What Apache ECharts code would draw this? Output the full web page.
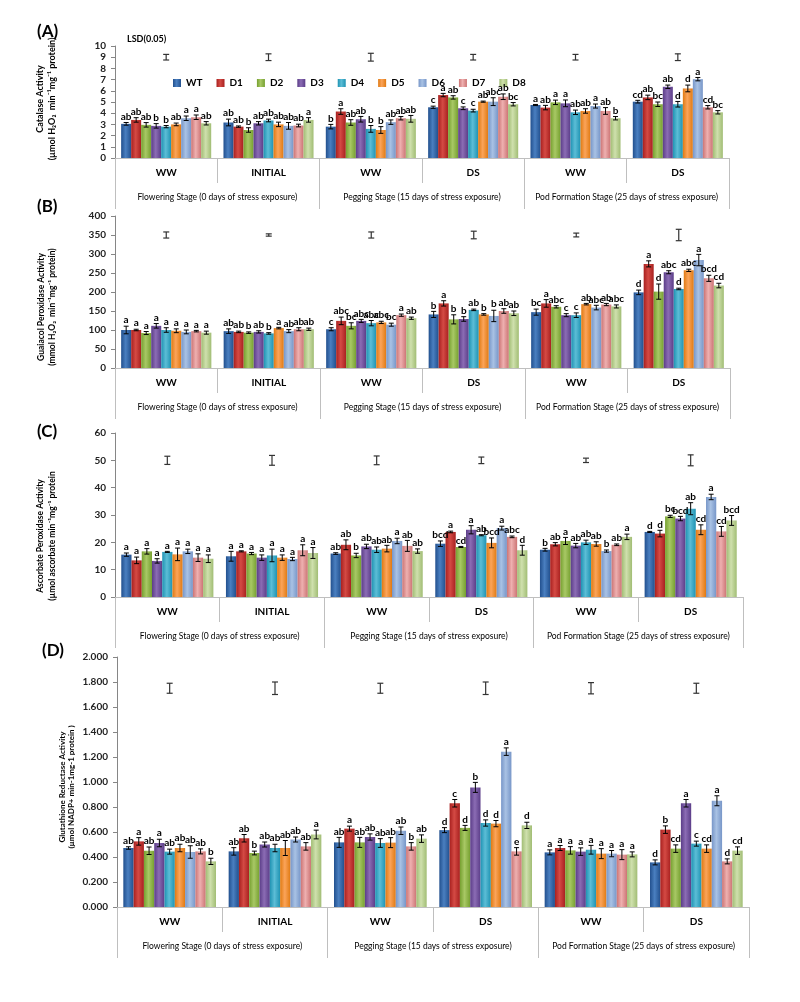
<!DOCTYPE html>
<html><head><meta charset="utf-8">
<script src="https://cdn.jsdelivr.net/npm/echarts@6.0.0/dist/echarts.min.js"></script>
<style>html,body{margin:0;padding:0;background:#fff}#c{width:800px;height:1002px}</style>
</head><body><div id="c"></div>
<script>
const seriesNames = ['WT','D1','D2','D3','D4','D5','D6','D7','D8'];
const categories = ['WW','INITIAL','WW','DS','WW','DS'];
const stages = ['Flowering Stage (0 days of stress exposure)','Pegging Stage (15 days of stress exposure)','Pod Formation Stage (25 days of stress exposure)'];

// (A) Catalase — rows: WT..D8, columns: 6 groups
const catMean = [
  [3.05,3.17,2.8,4.53,4.73,5.03],
  [3.4,2.8,4.15,5.62,4.5,5.41],
  [2.96,2.5,3.17,5.41,4.97,4.8],
  [2.87,3.1,3.46,4.44,4.88,6.36],
  [2.8,3.35,2.6,4.23,4.08,4.8],
  [3.0,3.0,2.5,5.03,4.2,6.21],
  [3.55,2.87,3.2,5.03,4.64,7.04],
  [3.64,2.9,3.55,5.47,4.2,4.53],
  [3.1,3.4,3.5,4.8,3.55,4.08]];
const catErr = [
  [0.12,0.3,0.2,0.1,0.05,0.12],
  [0.2,0.06,0.25,0.15,0.2,0.2],
  [0.2,0.2,0.25,0.15,0.2,0.2],
  [0.2,0.15,0.25,0.12,0.3,0.15],
  [0.1,0.12,0.3,0.12,0.2,0.25],
  [0.12,0.2,0.3,0.05,0.2,0.3],
  [0.2,0.3,0.2,0.35,0.18,0.15],
  [0.2,0.12,0.15,0.25,0.3,0.15],
  [0.15,0.2,0.3,0.15,0.15,0.15]];
const catLet = [
  ['ab','ab','b','c','a','cd'],
  ['ab','ab','a','a','ab','ab'],
  ['ab','b','ab','ab','a','bc'],
  ['b','ab','ab','c','a','ab'],
  ['b','ab','b','c','ab','d'],
  ['ab','ab','b','ab','ab','d'],
  ['a','ab','ab','abc','a','a'],
  ['a','ab','ab','ab','ab','cd'],
  ['ab','a','ab','bc','b','bc']];
const catLsd = [0.25,0.3,0.35,0.25,0.25,0.3];
const catLsdLevel = 9;

// (B) Guaiacol peroxidase
const gpxMean = [
  [100,97,102,141,147,199],
  [100,95,124,170,170,274],
  [92,93,111,128,161,201],
  [111,95,124,129,139,252],
  [100,91,118,153,139,208],
  [98,105,120,141,168,257],
  [95,97,114,137,159,284],
  [97,102,139,150,167,236],
  [93,102,131,144,162,217]];
const gpxErr = [
  [10,6,4,8,8,6],
  [2,2,10,7,10,8],
  [4,2,8,12,3,20],
  [6,3,4,6,4,4],
  [6,2,7,2,6,2],
  [5,2,3,2,2,3],
  [5,4,4,15,6,15],
  [2,4,3,6,3,8],
  [4,3,3,6,4,6]];
const gpxLet = [
  ['a','ab','c','b','bc','d'],
  ['a','ab','abc','a','a','a'],
  ['a','b','bc','b','abc','d'],
  ['a','ab','abc','b','c','abc'],
  ['a','b','abc','ab','c','d'],
  ['a','a','abc','b','ab','abc'],
  ['a','ab','bc','b','abc','a'],
  ['a','ab','a','ab','ab','bcd'],
  ['a','ab','ab','ab','abc','cd']];
const gpxLsd = [8,3,8,10,5,15];
const gpxLsdLevel = 350;

// (C) Ascorbate peroxidase
const apxMean = [
  [15.5,14.9,15.9,19.5,17.3,23.8],
  [13.4,16.7,19.1,23.8,19.3,23.2],
  [16.7,15.9,15.2,18.3,20.5,29.5],
  [13.2,14.4,18.5,24.6,18.8,28.7],
  [16.5,15.2,17.3,22.6,20.0,32.3],
  [15.6,14.4,17.7,19.8,19.4,24.6],
  [16.7,13.9,20.5,25.2,16.8,36.6],
  [14.4,17.1,18.7,22.0,19.1,24.0],
  [14.0,16.1,16.8,17.1,22.0,28.0]];
const apxErr = [
  [0.6,1.8,0.3,1.0,0.5,0.2],
  [1.2,0.2,1.8,0.3,0.6,1.2],
  [1.0,0.4,0.8,0.2,1.3,0.4],
  [0.8,1.0,0.8,1.5,0.8,0.8],
  [0.2,2.3,1.0,0.2,0.8,2.2],
  [2.3,1.0,1.2,1.8,0.8,1.8],
  [0.8,0.6,1.0,0.7,0.4,1.0],
  [1.4,2.0,2.0,0.3,0.3,1.8],
  [1.4,2.0,0.8,1.8,1.0,1.8]];
const apxLet = [
  ['a','a','ab','bcd','b','d'],
  ['a','a','ab','a','ab','d'],
  ['a','a','b','cd','a','bc'],
  ['a','a','ab','a','ab','bcd'],
  ['a','a','ab','ab','ab','ab'],
  ['a','a','ab','bcd','ab','cd'],
  ['a','a','a','a','b','a'],
  ['a','a','ab','abc','ab','cd'],
  ['a','a','ab','d','a','bcd']];
const apxLsd = [1.5,1.8,1.6,1.2,0.8,2.0];
const apxLsdLevel = 50;

// (D) Glutathione reductase
const grMean = [
  [0.472,0.445,0.517,0.615,0.437,0.357],
  [0.525,0.55,0.627,0.83,0.472,0.619],
  [0.45,0.432,0.517,0.633,0.453,0.467],
  [0.512,0.5,0.56,0.957,0.443,0.83],
  [0.443,0.472,0.512,0.672,0.458,0.507],
  [0.472,0.472,0.515,0.667,0.427,0.467],
  [0.44,0.54,0.61,1.243,0.427,0.85],
  [0.445,0.485,0.485,0.445,0.419,0.365],
  [0.365,0.58,0.547,0.653,0.421,0.451]];
const grErr = [
  [0.01,0.03,0.04,0.02,0.02,0.02],
  [0.03,0.03,0.02,0.03,0.02,0.03],
  [0.03,0.015,0.04,0.02,0.03,0.03],
  [0.03,0.02,0.025,0.04,0.03,0.03],
  [0.02,0.03,0.035,0.025,0.035,0.02],
  [0.03,0.06,0.04,0.025,0.04,0.03],
  [0.05,0.02,0.03,0.03,0.025,0.04],
  [0.02,0.03,0.03,0.03,0.04,0.02],
  [0.025,0.035,0.03,0.025,0.02,0.03]];
const grLet = [
  ['ab','ab','ab','d','a','d'],
  ['a','ab','a','c','a','b'],
  ['ab','b','ab','d','a','cd'],
  ['a','ab','ab','b','a','a'],
  ['ab','ab','ab','d','a','c'],
  ['ab','ab','ab','d','a','cd'],
  ['ab','ab','ab','a','a','a'],
  ['ab','ab','b','e','a','d'],
  ['b','a','ab','d','a','cd']];
const grLsd = [0.04,0.05,0.04,0.05,0.045,0.04];
const grLsdLevel = 1.75;

const colors = [
  ['#22508e','#4a7fc0'],['#a8201f','#d44a44'],['#76a030','#a8c865'],['#5b3d88','#8b6cb4'],
  ['#1f93b3','#5cbdd6'],['#e07a12','#fba45a'],['#7796c8','#a9c2e4'],['#cc7474','#eeb0b0'],['#a1bd74','#cfe0ad']];
const FONT = 'Lato, "Liberation Sans", sans-serif';
const GAP = 0.12;

const panels = [
  {mean:catMean, err:catErr, let:catLet, lsd:catLsd, lsdLevel:catLsdLevel, left:115, top:46, width:614, height:112,
   min:0, max:10, interval:1, dec:0,
   name:'Catalase Activity\n(µmol H₂O₂  min⁻¹mg⁻¹ protein)', nx:46, ny:99, nfs:9, nlh:12, label:'(A)', ly:32, lx:37},
  {mean:gpxMean, err:gpxErr, let:gpxLet, lsd:gpxLsd, lsdLevel:gpxLsdLevel, left:115, top:216, width:615, height:152,
   min:0, max:400, interval:50, dec:0,
   name:'Guaiacol Peroxidase Activity\n(mmol H₂O₂  min⁻¹mg⁻¹ protein)', nx:47, ny:307, nfs:8.5, nlh:10.5, label:'(B)', ly:207, lx:37},
  {mean:apxMean, err:apxErr, let:apxLet, lsd:apxLsd, lsdLevel:apxLsdLevel, left:115, top:433, width:628, height:164,
   min:0, max:60, interval:10, dec:0,
   name:'Ascorbate Peroxidase Activity\n(µmol ascorbate min⁻¹mg⁻¹ protein', nx:46, ny:536, nfs:8.5, nlh:12, label:'(C)', ly:432, lx:37},
  {mean:grMean, err:grErr, let:grLet, lsd:grLsd, lsdLevel:grLsdLevel, left:117, top:657, width:632, height:250,
   min:0, max:2, interval:0.2, dec:3,
   name:'Glutathione Reductase Activity\n(µmol NADP+ min-1mg-1 protein )', nx:67, ny:787, nfs:8, nlh:9, label:'(D)', ly:651, lx:42}
];

const grid = [], xAxis = [], yAxis = [], series = [], graphic = [];
panels.forEach((p, pi) => {
  grid.push({left:p.left, top:p.top, width:p.width, height:p.height});
  xAxis.push({type:'category', gridIndex:pi, data:categories,
    axisLine:{lineStyle:{color:'#bfbfbf'}},
    axisTick:{show:true, length:25, lineStyle:{color:'#bfbfbf'}},
    axisLabel:{interval:0, margin:10, fontFamily:FONT, fontWeight:'bold', fontSize:10, color:'#000'}});
  xAxis.push({type:'category', gridIndex:pi, data:stages, position:'bottom', offset:25,
    axisLine:{show:false},
    axisTick:{show:true, length:26, lineStyle:{color:'#bfbfbf'}},
    axisLabel:{interval:0, margin:10, fontFamily:FONT, fontSize:8.5, color:'#000'}});
  yAxis.push({type:'value', gridIndex:pi, min:p.min, max:p.max, interval:p.interval,
    axisLine:{show:true, lineStyle:{color:'#868686'}},
    axisTick:{show:true, length:4, lineStyle:{color:'#868686'}}, splitLine:{show:false},
    axisLabel:{margin:9, fontFamily:FONT, fontWeight:'bold', fontSize:10, color:'#222',
      formatter: v => v.toFixed(p.dec)}});
  graphic.push({type:'text', x:p.nx, y:p.ny, rotation:Math.PI/2,
    style:{text:p.name, x:0, y:0, align:'center', verticalAlign:'middle',
      fontFamily:FONT, fontWeight:'bold', fontSize:p.nfs, lineHeight:p.nlh, fill:'#000'}});
  graphic.push({type:'text', x:p.lx, y:p.ly,
    style:{text:p.label, x:0, y:0, align:'left', verticalAlign:'middle',
      fontFamily:FONT, fontWeight:'bold', fontSize:17, fill:'#000'}});
  const xi = pi*2;
  const recs = [];
  p.mean.forEach((row, si) => {
    series.push({type:'bar', name:seriesNames[si], xAxisIndex:xi, yAxisIndex:pi, data:row,
      barGap:'0%', barCategoryGap:(GAP*100)+'%',
      itemStyle:{color:{type:'linear',x:0,y:0,x2:1,y2:0,colorStops:[
        {offset:0,color:colors[si][0]},{offset:0.45,color:colors[si][1]},{offset:1,color:colors[si][0]}]}},
      emphasis:{disabled:true}, animation:false});
    row.forEach((v, ci) => recs.push({cat:ci, s:si, v:v, e:p.err[si][ci], l:p.let[si][ci]}));
  });
  series.push({type:'custom', name:'err'+pi, xAxisIndex:xi, yAxisIndex:pi, z:5, animation:false, silent:true,
    data: recs.map(r => [r.cat, r.v + r.e]),
    encode:{x:0, y:1},
    renderItem:(params, api) => {
      const r = recs[params.dataIndex];
      const band = api.size([1,0])[0];
      const c = api.coord([r.cat, r.v]);
      const bw = band*(1-GAP)/9;
      const x = c[0] - band*(1-GAP)/2 + bw*(r.s+0.5);
      const yT = api.coord([r.cat, r.v + r.e])[1];
      const yB = api.coord([r.cat, r.v - r.e])[1];
      const cap = 2.5, st = {stroke:'#000', lineWidth:1};
      return {type:'group', children:[
        {type:'line', shape:{x1:x,y1:yT,x2:x,y2:yB}, style:st},
        {type:'line', shape:{x1:x-cap,y1:yT,x2:x+cap,y2:yT}, style:st},
        {type:'line', shape:{x1:x-cap,y1:yB,x2:x+cap,y2:yB}, style:st},
        {type:'text', style:{text:r.l, x:x, y:yT-1, align:'center', verticalAlign:'bottom',
          fontFamily:FONT, fontWeight:'bold', fontSize:10, fill:'#000'}}
      ]};
    }});
  series.push({type:'custom', name:'lsd'+pi, xAxisIndex:xi, yAxisIndex:pi, z:5, animation:false, silent:true,
    data: p.lsd.map((h, ci) => [ci, p.lsdLevel, h]),
    encode:{x:0, y:1},
    renderItem:(params, api) => {
      const ci = api.value(0), h = api.value(2);
      const x = api.coord([ci, p.lsdLevel])[0];
      const yT = api.coord([ci, p.lsdLevel + h])[1];
      const yB = api.coord([ci, p.lsdLevel - h])[1];
      const cap = 3, st = {stroke:'#333', lineWidth:1.2};
      return {type:'group', children:[
        {type:'line', shape:{x1:x,y1:yT,x2:x,y2:yB}, style:st},
        {type:'line', shape:{x1:x-cap,y1:yT,x2:x+cap,y2:yT}, style:st},
        {type:'line', shape:{x1:x-cap,y1:yB,x2:x+cap,y2:yB}, style:st}
      ]};
    }});
});

graphic.push({type:'text', x:127, y:39, style:{text:'LSD(0.05)', x:0, y:0, verticalAlign:'middle',
  fontFamily:FONT, fontWeight:'bold', fontSize:9, fill:'#000'}});

const chart = echarts.init(document.getElementById('c'), null, {renderer:'canvas'});
chart.setOption({
  animation:false,
  backgroundColor:'#fff',
  grid, xAxis, yAxis, series, graphic,
  legend:{data:seriesNames, left:168, top:73, itemWidth:8, itemHeight:8, itemGap:14, icon:'rect',
    selectedMode:false,
    textStyle:{fontFamily:FONT, fontWeight:'bold', fontSize:10, color:'#000'}}
});
</script>
</body></html>
